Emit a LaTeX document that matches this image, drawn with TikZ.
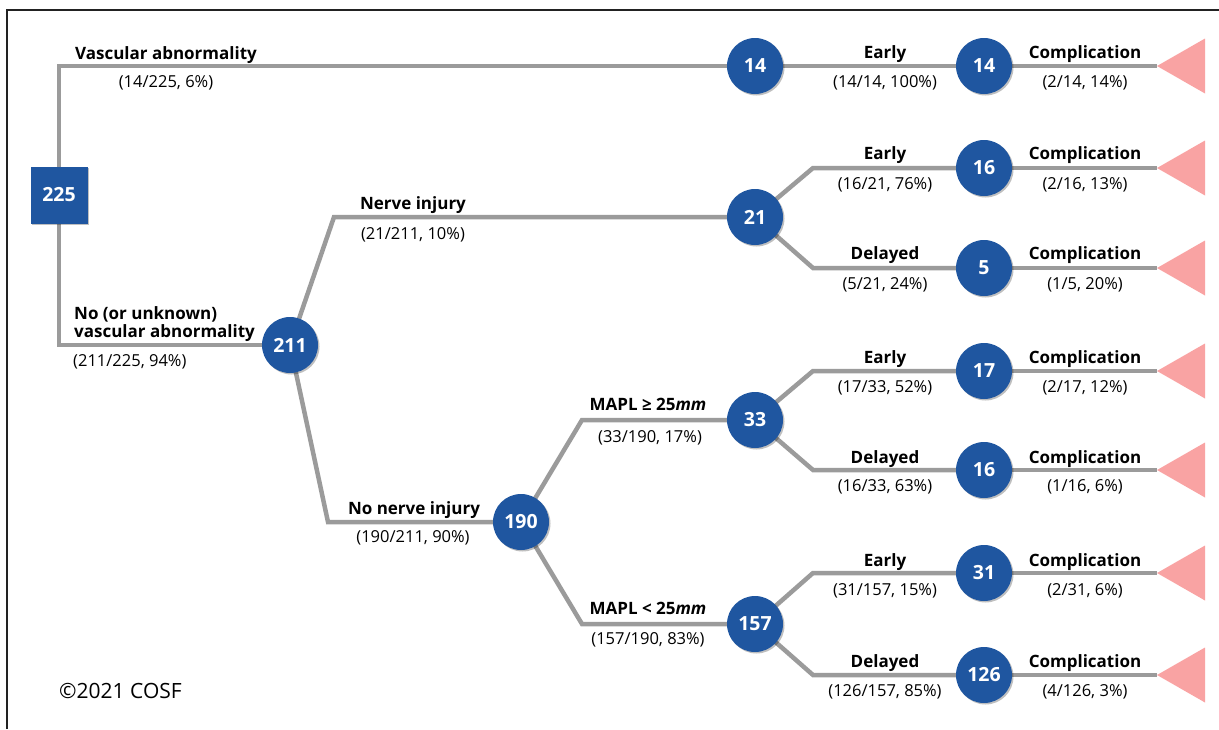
\documentclass[tikz,border=0pt]{standalone}
\usepackage{fontspec}
\setmainfont{Open Sans}
\usetikzlibrary{shadows,backgrounds}
\definecolor{nodeblue}{HTML}{1F56A0}
\definecolor{linegrey}{HTML}{9B9B9B}
\definecolor{tripink}{HTML}{F9A3A3}
\definecolor{framec}{HTML}{222222}
\tikzset{
  num/.style={circle, fill=nodeblue, minimum size=56pt, inner sep=0pt, text=white,
    font=\fontsize{19.5}{20}\selectfont\bfseries,
    drop shadow={shadow xshift=1.5pt, shadow yshift=-1.5pt, opacity=0.25, fill=black}},
  rootbox/.style={rectangle, fill=nodeblue, minimum size=57pt, inner sep=0pt, text=white,
    font=\fontsize{19.5}{20}\selectfont\bfseries,
    drop shadow={shadow xshift=1.5pt, shadow yshift=-1.5pt, opacity=0.25, fill=black}},
  conn/.style={draw=linegrey, line width=4.5pt, line join=miter},
  blab/.style={inner sep=0pt, anchor=base, font=\fontsize{17}{18}\selectfont\bfseries},
  rlab/.style={inner sep=0pt, anchor=base, font=\fontsize{16.5}{18}\selectfont},
  tri/.style={fill=tripink},
}
\begin{document}
\begin{tikzpicture}[x=1pt,y=-1pt]
\useasboundingbox (0,0) rectangle (1219,729);
% frame
\draw[framec, line width=1.2pt] (7,729) -- (7,10) -- (1219,10);

% nodes
\node[rootbox] (root) at (59,195) {225};
\node[num] (n211) at (290,345) {211};
\node[num] (n190) at (521,522) {190};
\node[num] (n14a) at (755,66) {14};
\node[num] (n21) at (755,217) {21};
\node[num] (n33) at (755,420) {33};
\node[num] (n157) at (755,624) {157};
\node[num] (n14b) at (984,66) {14};
\node[num] (n16a) at (984,168) {16};
\node[num] (n5) at (984,268) {5};
\node[num] (n17) at (984,371) {17};
\node[num] (n16b) at (984,470) {16};
\node[num] (n31) at (984,573) {31};
\node[num] (n126) at (984,675) {126};

% bend coordinates
\coordinate (c0a) at (59,66);
\coordinate (c0b) at (59,345);
\coordinate (c1) at (334,217);
\coordinate (c2) at (328,522);
\coordinate (c3) at (582,420);
\coordinate (c4) at (582,624);
\coordinate (c5) at (813,168);
\coordinate (c6) at (813,268);
\coordinate (c7) at (813,371);
\coordinate (c8) at (813,470);
\coordinate (c9) at (813,573);
\coordinate (c10) at (813,675);
% triangle apexes
\foreach \i/\y in {1/66,2/168,3/268,4/371,5/470,6/573,7/675}{
  \coordinate (t\i) at (1157,\y);
  \fill[tri] (t\i) -- ++(48,-27.5) -- ++(0,55) -- cycle;
}

\begin{pgfonlayer}{background}
\draw[conn] (root.center) -- (c0a) -- (n14a.center);
\draw[conn] (root.center) -- (c0b) -- (n211.center);
\draw[conn] (n211.center) -- (c1) -- (n21.center);
\draw[conn] (n211.center) -- (c2) -- (n190.center);
\draw[conn] (n190.center) -- (c3) -- (n33.center);
\draw[conn] (n190.center) -- (c4) -- (n157.center);
\draw[conn] (n14a.center) -- (n14b.center);
\draw[conn] (n21.center) -- (c5) -- (n16a.center);
\draw[conn] (n21.center) -- (c6) -- (n5.center);
\draw[conn] (n33.center) -- (c7) -- (n17.center);
\draw[conn] (n33.center) -- (c8) -- (n16b.center);
\draw[conn] (n157.center) -- (c9) -- (n31.center);
\draw[conn] (n157.center) -- (c10) -- (n126.center);
\draw[conn] (n14b.center) -- (t1);
\draw[conn] (n16a.center) -- (t2);
\draw[conn] (n5.center) -- (t3);
\draw[conn] (n17.center) -- (t4);
\draw[conn] (n16b.center) -- (t5);
\draw[conn] (n31.center) -- (t6);
\draw[conn] (n126.center) -- (t7);
\end{pgfonlayer}

% left labels
\node[blab] (l1) at (166,59) {Vascular abnormality};
\node[rlab] (p1) at (166,87) {(14/225, 6\%)};
\node[blab, anchor=base west] (l2a) at (74,319) {No (or unknown)};
\node[blab, anchor=base west] (l2b) at (74,337) {vascular abnormality};
\node[rlab, anchor=base west] (p2) at (73,366) {(211/225, 94\%)};
\node[blab] (l3) at (413,209) {Nerve injury};
\node[rlab] (p3) at (413,239) {(21/211, 10\%)};
\node[blab] (l4) at (414,514) {No nerve injury};
\node[rlab] (p4) at (413,542) {(190/211, 90\%)};
\node[blab] (l5) at (648,410) {MAPL ≥ 25\textit{mm}};
\node[rlab] (p5) at (650,442) {(33/190, 17\%)};
\node[blab] (l6) at (648,614) {MAPL < 25\textit{mm}};
\node[rlab] (p6) at (648,644) {(157/190, 83\%)};

% Early/Delayed column
\node[blab] (e1) at (885,58) {Early};
\node[rlab] (q1) at (885,87) {(14/14, 100\%)};
\node[blab] (e2) at (885,159) {Early};
\node[rlab] (q2) at (885,189) {(16/21, 76\%)};
\node[blab] (e3) at (885,259) {Delayed};
\node[rlab] (q3) at (885,289) {(5/21, 24\%)};
\node[blab] (e4) at (885,363) {Early};
\node[rlab] (q4) at (885,392) {(17/33, 52\%)};
\node[blab] (e5) at (885,463) {Delayed};
\node[rlab] (q5) at (885,491) {(16/33, 63\%)};
\node[blab] (e6) at (885,566) {Early};
\node[rlab] (q6) at (885,595) {(31/157, 15\%)};
\node[blab] (e7) at (885,667) {Delayed};
\node[rlab] (q7) at (885,696) {(126/157, 85\%)};

% Complication column
\node[blab] (k1) at (1085,58) {Complication};
\node[rlab] (r1) at (1085,87) {(2/14, 14\%)};
\node[blab] (k2) at (1085,159) {Complication};
\node[rlab] (r2) at (1085,189) {(2/16, 13\%)};
\node[blab] (k3) at (1085,259) {Complication};
\node[rlab] (r3) at (1085,289) {(1/5, 20\%)};
\node[blab] (k4) at (1085,363) {Complication};
\node[rlab] (r4) at (1085,392) {(2/17, 12\%)};
\node[blab] (k5) at (1085,463) {Complication};
\node[rlab] (r5) at (1085,491) {(1/16, 6\%)};
\node[blab] (k6) at (1085,566) {Complication};
\node[rlab] (r6) at (1085,595) {(2/31, 6\%)};
\node[blab] (k7) at (1085,667) {Complication};
\node[rlab] (r7) at (1085,696) {(4/126, 3\%)};

\node[inner sep=0pt, anchor=base west, font=\fontsize{21}{22}\selectfont] (copy) at (59,698) {©2021 COSF};
\end{tikzpicture}
\end{document}
